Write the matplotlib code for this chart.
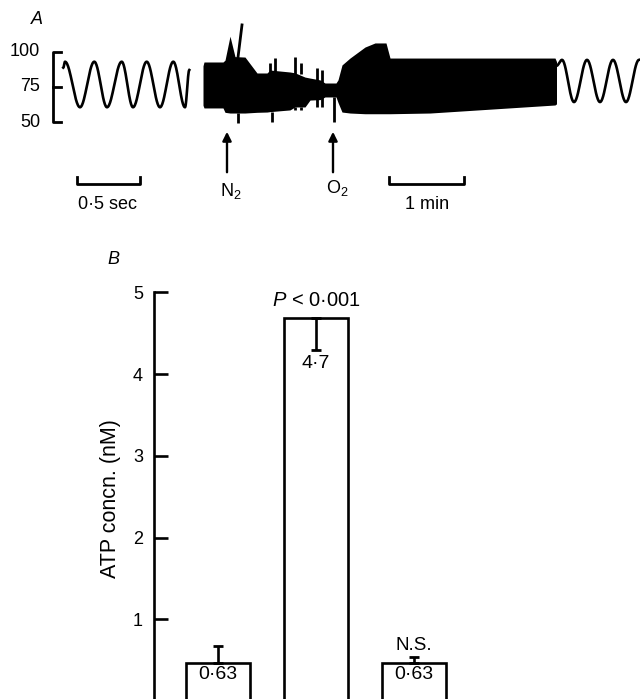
import numpy as np
import matplotlib
matplotlib.use("Agg")
from matplotlib import pyplot as plt

plt.rcParams['font.family'] = ['Liberation Sans', 'DejaVu Sans']
plt.rcParams['mathtext.fontset'] = 'custom'
plt.rcParams['mathtext.rm'] = 'Liberation Sans'
plt.rcParams['mathtext.it'] = 'Liberation Sans:italic'

# ---- panel A: blood pressure trace (mmHg), x = position along trace ----
pulse1_x = [63.3, 65, 80, 94.3, 107, 121.7, 133, 146.7, 160, 173.3, 185, 189.3]
pulse1_p = [88.7, 92.9, 60.6, 92.9, 60.6, 92.9, 60.6, 92.9, 60.6, 92.9, 60.6, 87.0]
pulse2_x = [556.5, 562, 574, 587, 600, 613, 626, 639]
pulse2_p = [90.0, 94.2, 64.3, 94.2, 64.3, 94.2, 64.3, 94.2]

env_x = [203, 204, 223, 225, 230, 235, 245, 257, 267, 270, 290, 295, 305, 310, 320,
         325, 336, 338, 342, 350, 365, 375, 386, 390, 430, 555, 556.5]
env_hi = [90, 92.7, 92.7, 94, 111, 96.5, 96.2, 84.9, 84.9, 87, 85.6, 85, 82, 81.3, 80,
          77.8, 77.8, 80, 90.6, 95.5, 103.3, 106.2, 106.2, 95.5, 95.5, 95.5, 93]
env_lo = [62, 60.1, 60.1, 57, 56.5, 56.5, 56.5, 57, 57.2, 57.5, 58.7, 60.8, 60.8, 65.7, 66,
          67.9, 67.9, 64, 57.2, 56.5, 56, 56, 56, 56, 56.5, 62.2, 63]
spike_x = [238, 270, 275, 272, 295, 301, 295, 301, 317, 322, 334]
spike_lo = [49.4, 85, 85, 50.1, 84, 84, 58.7, 58.7, 60.8, 60.8, 50.1]
spike_hi = [56.5, 92, 95.5, 57.5, 96.2, 92, 61, 61, 88.4, 87, 68]

# ---- panel B: ATP concentration (nM) ----
bar_pos = [0, 1, 2]
bar_h = [0.46, 4.69, 0.46]
err_lo = [0, 0.40, 0]
err_hi = [0.21, 0, 0.08]
bar_text = ['0·63', '4·7', '0·63']


def py(ypx):
    # pixel row of the figure -> mmHg of the trace axes
    return 100 - (ypx - 51.7) / 1.41


def pulse(xs, ps):
    xx, yy = [], []
    for i in range(len(xs) - 1):
        t = np.linspace(0, 1, 30)
        xx.extend(xs[i] + t * (xs[i + 1] - xs[i]))
        yy.extend(ps[i] + (ps[i + 1] - ps[i]) * (1 - np.cos(np.pi * t)) / 2)
    return xx, yy


fig = plt.figure(figsize=(6.4, 6.99), dpi=100)

axA = fig.add_axes([0, 1 - 240 / 699, 1, 240 / 699])
axA.set_xlim(0, 640)
axA.set_ylim(py(240), py(0))
axA.axis('off')

x1, y1 = pulse(pulse1_x, pulse1_p)
axA.plot(x1, y1, color='k', lw=1.9)
x2, y2 = pulse(pulse2_x, pulse2_p)
axA.plot(x2, y2, color='k', lw=1.9)
axA.fill_between(env_x, env_lo, env_hi, color='k', lw=0)
axA.vlines(spike_x, spike_lo, spike_hi, color='k', lw=2)
axA.plot([238, 242], [96, 119], color='k', lw=2)

# calibration bracket
axA.plot([61, 53, 53, 61], [100, 100, 50, 50], color='k', lw=2)
axA.plot([53, 61], [75, 75], color='k', lw=2)
for v in [100, 75, 50]:
    axA.text(40, v, str(v), ha='right', va='center', fontsize=13)
axA.text(37, py(20), 'A', ha='center', va='center', fontsize=13, style='italic')

# time bars
axA.plot([77, 77, 140, 140], [py(177), py(184), py(184), py(177)], color='k', lw=2)
axA.text(108, py(204), '0·5 sec', ha='center', va='center', fontsize=13)
axA.plot([389, 389, 464, 464], [py(177), py(184), py(184), py(177)], color='k', lw=2)
axA.text(427, py(204), '1 min', ha='center', va='center', fontsize=13)

# gas arrows
for xa, lab, ylab in [(227, r'$\mathrm{N_2}$', 191), (333, r'$\mathrm{O_2}$', 188)]:
    axA.annotate('', xy=(xa, py(129)), xytext=(xa, py(175)),
                 arrowprops=dict(arrowstyle='-|>', color='k', lw=1.7, mutation_scale=13))
    axA.text(xa + 4, py(ylab), lab, ha='center', va='center', fontsize=13)

# ---- panel B ----
y0 = (699 - 701) / 699
y5 = (699 - 292.3) / 699
axB = fig.add_axes([154 / 640, y0, 1 - 154 / 640, y5 - y0])
axB.set_ylim(0, 5)
axB.set_xlim(-64 / 98, 2 + 226 / 98)
axB.bar(bar_pos, bar_h, width=64 / 98, color='white', edgecolor='k', lw=1.9)
axB.errorbar(bar_pos, bar_h, yerr=[err_lo, err_hi], fmt='none', ecolor='k',
             elinewidth=1.9, capsize=3.6, capthick=2)
for x, t, yv in zip(bar_pos, bar_text, [0.32, 4.13, 0.32]):
    axB.text(x, yv, t, ha='center', va='center', fontsize=14)
axB.text(1, 4.9, r'$P$ < 0·001', ha='center', va='center', fontsize=14.5)
axB.text(2, 0.685, 'N.S.', ha='center', va='center', fontsize=13.5)

for s in ['top', 'right', 'bottom']:
    axB.spines[s].set_visible(False)
axB.spines['left'].set_linewidth(1.9)
axB.set_yticks([1, 2, 3, 4, 5])
axB.set_xticks([])
axB.tick_params(axis='y', direction='in', length=10, width=1.9, pad=8, labelsize=13)
axB.set_ylabel('ATP concn. (nM)', fontsize=15.5)
axB.yaxis.set_label_coords(-(154 - 121) / 486, (701 - 498) / 409)

fig.text(113 / 640, 1 - 259 / 699, 'B', ha='center', va='center', fontsize=13,
         style='italic')

fig.savefig('out.png', dpi=100)
